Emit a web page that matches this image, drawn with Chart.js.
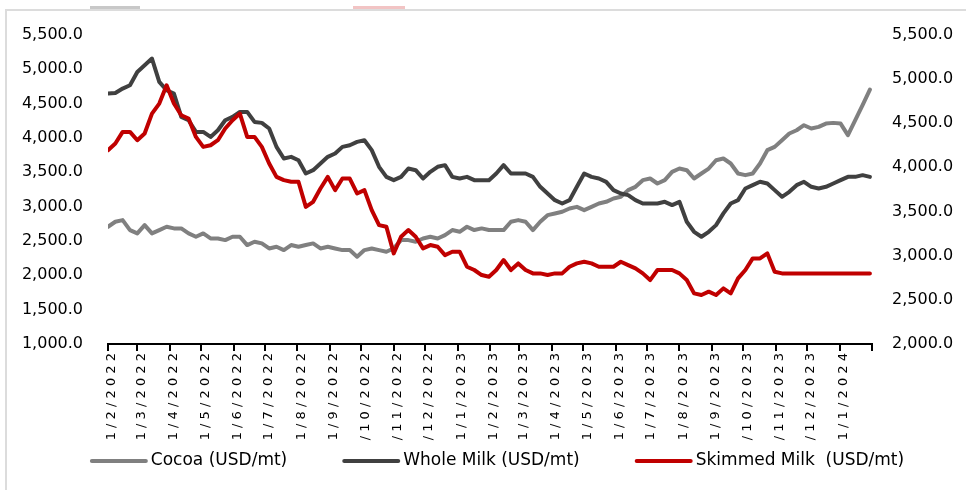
<!DOCTYPE html>
<html>
<head>
<meta charset="utf-8">
<script src="https://cdn.jsdelivr.net/npm/chart.js@4.4.1/dist/chart.umd.min.js"></script>
<style>
  html, body { margin: 0; padding: 0; background: #fff; }
  #wrap { position: relative; width: 966px; height: 490px; overflow: hidden; }
  #frame { position: absolute; left: 5px; top: 9px; right: -10px; bottom: -10px;
           border-top: 2px solid #dcdcdc; border-left: 2px solid #dcdcdc; }
  .stub { position: absolute; top: 6px; height: 3px; }
  canvas { position: absolute; left: 0; top: 0; }
</style>
</head>
<body>
<div id="wrap">
  <div id="frame"></div>
  <div class="stub" style="left:90px;width:50px;background:#c8c8c8"></div>
  <div class="stub" style="left:353px;width:52px;background:#f2c4c4"></div>
  <canvas id="chart" width="966" height="490"></canvas>
</div>
<script>
// étiquettes de l'axe des x (un repère par mois)
const tickLabels = ['1/2/2022', '1/3/2022', '1/4/2022', '1/5/2022', '1/6/2022', '1/7/2022',
  '1/8/2022', '1/9/2022', '1/10/2022', '1/11/2022', '1/12/2022', '1/1/2023',
  '1/2/2023', '1/3/2023', '1/4/2023', '1/5/2023', '1/6/2023', '1/7/2023',
  '1/8/2023', '1/9/2023', '1/10/2023', '1/11/2023', '1/12/2023', '1/1/2024'];
const axisEnd = '1/2/2024';
const stepDays = 7; // une valeur par semaine, à partir du 1/2/2022

// séries (USD/mt)
const cocoa = [
  2705, 2778, 2802, 2657, 2608, 2729, 2608, 2657, 2705, 2681, 2681, 2608, 2560,
  2608, 2535, 2535, 2511, 2560, 2560, 2439, 2487, 2463, 2390, 2414, 2366, 2439,
  2414, 2439, 2463, 2390, 2414, 2390, 2366, 2366, 2269, 2366, 2390, 2366, 2342,
  2390, 2511, 2511, 2487, 2535, 2560, 2535, 2584, 2657, 2632, 2705, 2657, 2681,
  2657, 2657, 2657, 2778, 2802, 2778, 2657, 2778, 2874, 2899, 2923, 2971, 2995,
  2947, 2995, 3044, 3068, 3117, 3141, 3238, 3286, 3383, 3407, 3334, 3383, 3504,
  3552, 3528, 3407, 3480, 3552, 3673, 3698, 3625, 3480, 3456, 3480, 3625, 3819,
  3867, 3964, 4061, 4109, 4182, 4134, 4158, 4206, 4216, 4206, 4037, 4255, 4473, 4700];
const wholeMilk = [
  4642, 4652, 4715, 4763, 4957, 5054, 5151, 4812, 4690, 4642, 4303, 4255, 4085,
  4085, 4012, 4109, 4255, 4303, 4376, 4376, 4230, 4216, 4134, 3867, 3698, 3722,
  3673, 3480, 3528, 3625, 3722, 3770, 3867, 3891, 3940, 3964, 3819, 3577, 3431,
  3383, 3431, 3552, 3528, 3407, 3504, 3577, 3601, 3431, 3407, 3431, 3383, 3383,
  3383, 3480, 3601, 3480, 3480, 3480, 3431, 3286, 3189, 3092, 3044, 3092, 3286,
  3480, 3431, 3407, 3359, 3238, 3189, 3165, 3092, 3044, 3044, 3044, 3068, 3020,
  3068, 2778, 2632, 2560, 2632, 2729, 2899, 3044, 3092, 3262, 3310, 3359, 3334,
  3238, 3141, 3213, 3310, 3359, 3286, 3262, 3286, 3334, 3383, 3431, 3431, 3456, 3431];
const skimmedMilk = [
  3819, 3916, 4085, 4085, 3964, 4061, 4351, 4497, 4763, 4497, 4327, 4279, 4012,
  3867, 3891, 3964, 4134, 4255, 4351, 4012, 4012, 3867, 3625, 3431, 3383, 3359,
  3359, 2995, 3068, 3262, 3431, 3238, 3407, 3407, 3189, 3238, 2947, 2729, 2705,
  2318, 2560, 2657, 2560, 2390, 2439, 2414, 2293, 2342, 2342, 2124, 2076, 2003,
  1978, 2076, 2221, 2076, 2172, 2076, 2027, 2027, 2003, 2027, 2027, 2124, 2172,
  2196, 2172, 2124, 2124, 2124, 2196, 2148, 2100, 2027, 1930, 2076, 2076, 2076,
  2027, 1930, 1736, 1712, 1761, 1712, 1809, 1736, 1954, 2076, 2245, 2245, 2318,
  2051, 2027, 2027, 2027, 2027, 2027, 2027, 2027, 2027, 2027, 2027, 2027, 2027, 2027];

// nombre de jours depuis le 1/2/2022 pour une date j/m/aaaa
function dayOf(label) {
  const [d, m, y] = label.split('/').map(Number);
  return (Date.UTC(y, m - 1, d) - Date.UTC(2022, 1, 1)) / 86400000;
}
const tickDays = tickLabels.map(dayOf);
const endDay = dayOf(axisEnd);

function toPoints(values) {
  return values.map((v, i) => ({ x: i * stepDays, y: v }));
}

const font = 'DejaVu Sans';
const fmt = (v) => v.toLocaleString('en-US', { minimumFractionDigits: 1, maximumFractionDigits: 1 });

// légende dessinée à la main sous le graphique (trait + texte, centrée)
const bottomLegend = {
  id: 'bottomLegend',
  afterDraw(chart) {
    const { ctx } = chart;
    ctx.save();
    ctx.font = `17px "${font}"`;
    const items = chart.data.datasets.map((ds) => ({
      label: ds.label, color: ds.borderColor, w: ctx.measureText(ds.label).width,
    }));
    const boxW = 58;
    const gapText = 3;
    const gapItem = 55;
    const total = items.reduce((s, it) => s + boxW + gapText + it.w, 0) + gapItem * (items.length - 1);
    let x = 497 - total / 2;
    const y = 461;
    items.forEach((it) => {
      ctx.strokeStyle = it.color;
      ctx.lineWidth = 4;
      ctx.lineCap = 'round';
      ctx.beginPath();
      ctx.moveTo(x + 2, y);
      ctx.lineTo(x + boxW - 2, y);
      ctx.stroke();
      x += boxW + gapText;
      ctx.fillStyle = '#000';
      ctx.textBaseline = 'middle';
      ctx.fillText(it.label, x, y);
      x += it.w + gapItem;
    });
    ctx.restore();
  },
};

new Chart(document.getElementById('chart'), {
  type: 'line',
  data: {
    datasets: [
      { label: 'Cocoa (USD/mt)', data: toPoints(cocoa), borderColor: '#808080', order: 3 },
      { label: 'Whole Milk (USD/mt)', data: toPoints(wholeMilk), borderColor: '#404040', order: 2 },
      { label: 'Skimmed Milk  (USD/mt)', data: toPoints(skimmedMilk), borderColor: '#c00000', order: 1 },
    ],
  },
  plugins: [bottomLegend],
  options: {
    responsive: false,
    animation: false,
    layout: { padding: { left: 20, right: 0, top: 27, bottom: 46 } },
    elements: {
      line: { borderWidth: 4, tension: 0, borderJoinStyle: 'round', borderCapStyle: 'round' },
      point: { radius: 0 },
    },
    plugins: {
      tooltip: { enabled: false },
      legend: { display: false },
    },
    scales: {
      x: {
        type: 'linear',
        min: 0,
        max: endDay,
        afterBuildTicks: (axis) => {
          axis.ticks = tickDays.concat([endDay]).map((v) => ({ value: v }));
        },
        afterFit: (axis) => { axis.height = 100; },
        ticks: {
          autoSkip: false,
          maxRotation: 90,
          minRotation: 90,
          padding: 2,
          labelOffset: 4,
          color: '#000',
          font: { family: font, size: 13 },
          callback: (value) => {
            const i = tickDays.indexOf(value);
            return i < 0 ? '' : tickLabels[i].split('').join(' ');
          },
        },
        grid: { drawOnChartArea: false, drawTicks: true, tickLength: 7, color: '#000', lineWidth: 2 },
        border: { display: true, color: '#000', width: 2 },
      },
      y: {
        position: 'left',
        min: 1000,
        max: 5500,
        afterFit: (axis) => { axis.width = 88; },
        ticks: { stepSize: 500, padding: 25, color: '#000', font: { family: font, size: 16 }, callback: fmt },
        grid: { display: false, drawTicks: false },
        border: { display: false },
      },
      y1: {
        position: 'right',
        min: 2000,
        max: 5500,
        afterFit: (axis) => { axis.width = 94; },
        ticks: { stepSize: 500, padding: 20, color: '#000', font: { family: font, size: 16 }, callback: fmt },
        grid: { display: false, drawTicks: false },
        border: { display: false },
      },
    },
  },
});
</script>
</body>
</html>
